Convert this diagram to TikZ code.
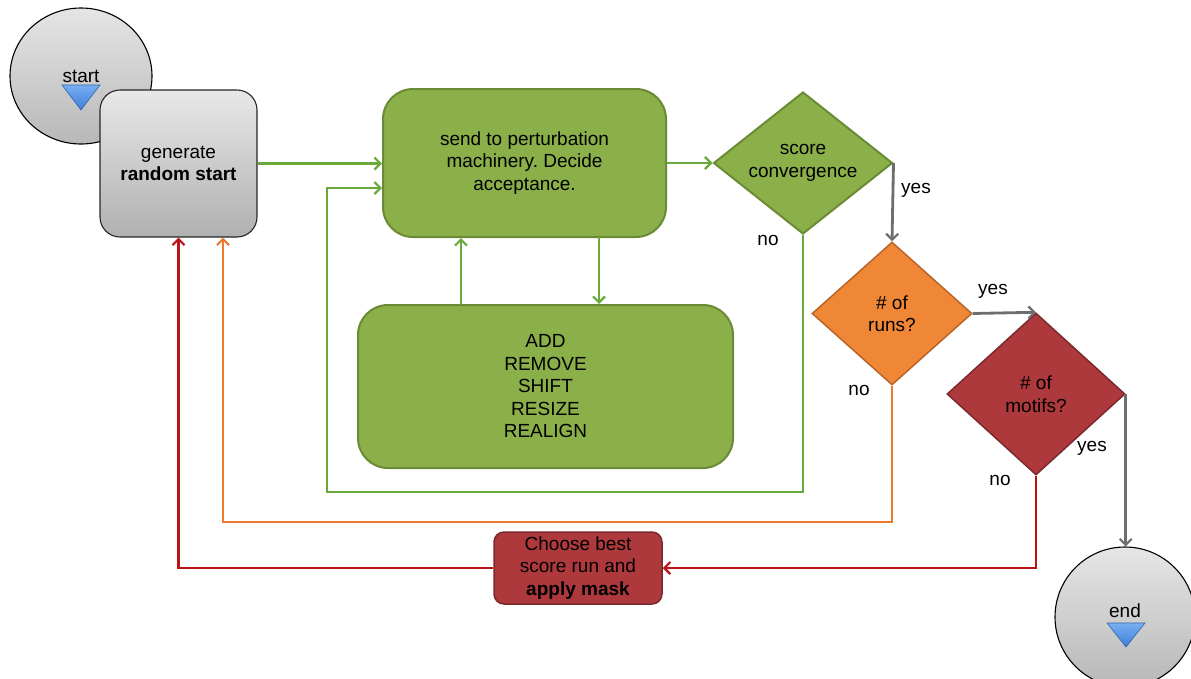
\documentclass[tikz,border=0pt]{standalone}
\usepackage{fontspec}
\setmainfont{Liberation Sans}
\usetikzlibrary{shapes.geometric,arrows.meta,calc}
\frenchspacing
\definecolor{gfill}{HTML}{8BB04A}
\definecolor{gdraw}{HTML}{6A8A35}
\definecolor{gline}{HTML}{6AAA3C}
\definecolor{ofill}{HTML}{F08737}
\definecolor{odraw}{HTML}{B8652A}
\definecolor{oline}{HTML}{EE7A30}
\definecolor{rfill}{HTML}{AE393D}
\definecolor{rdraw}{HTML}{7A2A2C}
\definecolor{rline}{HTML}{BA1419}
\definecolor{gray}{HTML}{6E6E6E}
\definecolor{tribot}{HTML}{3F7FD6}
\definecolor{tritop}{HTML}{78AEF2}
\tikzset{
  txt/.style={font=\fontsize{19}{22.5}\selectfont, align=center, text=black},
  greybox/.style={txt, draw=black!85, line width=1.1pt, rounded corners=20pt, top color=black!9, bottom color=black!31},
  greenbox/.style={txt, draw=gdraw, line width=2pt, fill=gfill, rounded corners=30pt},
  decision/.style={txt, diamond, shape aspect=1.25, inner sep=0pt, line width=2pt},
  termcircle/.style={ellipse, draw=black, line width=1.1pt, top color=black!10, bottom color=black!28},
  conn/.style={line width=2.8pt, -{Straight Barb[length=6pt,width=12pt,line width=2.2pt]}},
  lab/.style={font=\fontsize{19}{22}\selectfont},
  tri/.style={draw=tribot!80!black, line width=0.6pt, top color=tritop, bottom color=tribot}
}
\begin{document}
\begin{tikzpicture}[x=1pt,y=-1pt]
\useasboundingbox (0,0) rectangle (1191,678);
% start terminal
\node[termcircle, minimum width=142pt, minimum height=136pt] (start) at (81,76) {};
\node[txt, inner sep=0pt] (starttxt) at (81,76) {start};
\draw[tri] (62,85) -- (100,85) -- (81,110) -- cycle;
% generate
\node[greybox, minimum width=157pt, minimum height=147pt] (gen) at (178.5,163.5) {generate\\\textbf{random start}};
% perturbation
\node[greenbox, minimum width=283pt, minimum height=148pt] (pert) at (524.5,163) {send to perturbation\\machinery. Decide\\acceptance.};
% moves
\node[greenbox, minimum width=375pt, minimum height=163pt] (moves) at (545.5,386.5) {ADD\\REMOVE\\SHIFT\\RESIZE\\REALIGN};
% decisions
\node[decision, draw=gdraw, fill=gfill, minimum width=179pt, minimum height=142pt] (score) at (803,163) {score\\convergence};
\node[decision, draw=odraw, fill=ofill, line width=1.5pt, minimum width=160pt, minimum height=143pt] (runs) at (892,313.5) {\# of\\runs?};
\node[decision, draw=rdraw, fill=rfill, line width=1.5pt, minimum width=178pt, minimum height=162pt] (motifs) at (1036,394) {\# of\\motifs?};
% choose
\node[txt, draw=rdraw, line width=1.5pt, fill=rfill, rounded corners=10pt, minimum width=168pt, minimum height=72pt, inner sep=2pt] (choose) at (578,568) {Choose best\\score run and\\\textbf{apply mask}};
% end terminal
\node[termcircle, minimum width=140pt, minimum height=140pt] (end) at (1125,617) {};
\node[txt, inner sep=0pt] (endtxt) at (1125,611) {end};
\draw[tri] (1107,623) -- (1145,623) -- (1126,647) -- cycle;

% coordinates
\coordinate (gbot) at (803,492);
\coordinate (gleft) at (327,492);
\coordinate (gin) at (327,188);
\coordinate (obot) at (892,522);
\coordinate (oleft) at (223,522);
\coordinate (up) at (461,305);
\coordinate (down) at (599,237);

% connectors
\draw[conn, gline] (gen.east) -- (gen.east -| pert.west);
\draw[conn, gline] (pert.east) -- (score.west);
\draw[conn, gline] (up) -- (up |- pert.south);
\draw[conn, gline] (down) -- (down |- moves.north);
\draw[conn, gline] (score.south) -- (gbot) -- (gleft) -- (gin) -- (gin -| pert.west);
\draw[conn, gray] (score.east) -- (runs.north);
\draw[conn, gray] (runs.east) -- (motifs.north);
\draw[conn, gray] (motifs.east) -- (motifs.east |- end.north);
\draw[conn, oline] (runs.south) -- (obot) -- (oleft) -- (oleft |- gen.south);
\draw[conn, rline] (motifs.south) |- (choose.east);
\draw[conn, rline] (choose.west) -| (gen.south);

% labels
\node[lab] (l1) at (916,190) {yes};
\node[lab] (l2) at (768,240) {no};
\node[lab] (l3) at (993,291) {yes};
\node[lab] (l4) at (859,390) {no};
\node[lab] (l5) at (1092,448) {yes};
\node[lab] (l6) at (1000,480) {no};
\end{tikzpicture}
\end{document}
